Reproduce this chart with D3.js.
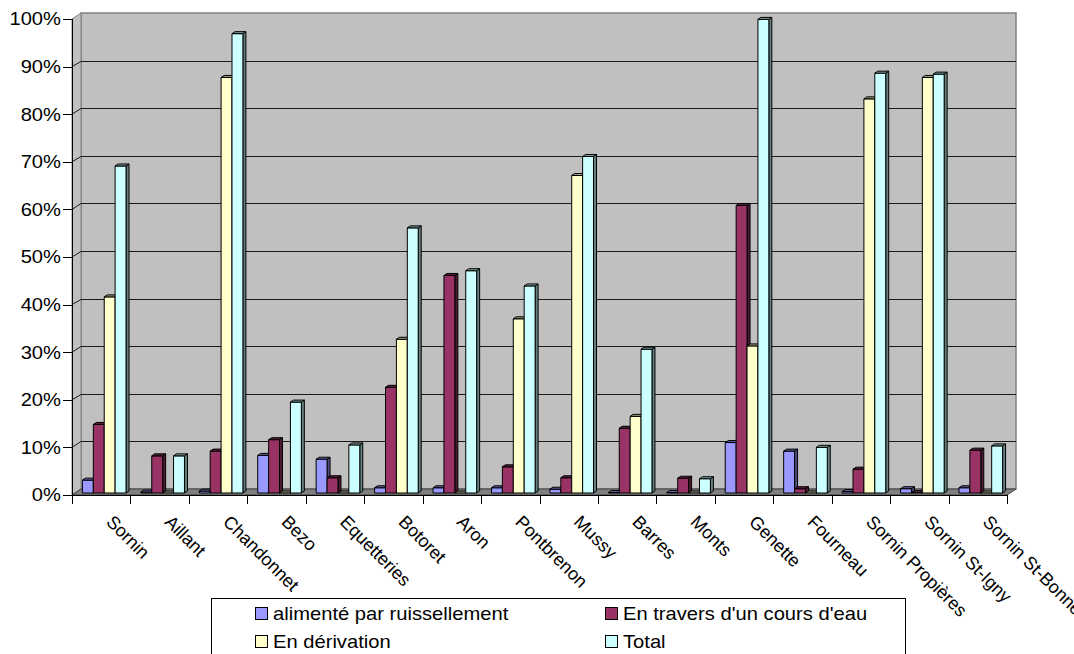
<!DOCTYPE html>
<html>
<head>
<meta charset="utf-8">
<script src="https://cdn.jsdelivr.net/npm/d3@7"></script>
<style>
  html, body { margin: 0; padding: 0; background: #fff; }
  svg { display: block; }
  text { font-family: "Liberation Sans", Arial, sans-serif; font-size: 18px; fill: #000; }
</style>
</head>
<body>
<svg id="chart" width="1074" height="654"></svg>
<script>
// Catchment names along the x axis
const categories = ["Sornin", "Aillant", "Chandonnet", "Bezo", "Equetteries", "Botoret", "Aron",
  "Pontbrenon", "Mussy", "Barres", "Monts", "Genette", "Fourneau", "Sornin Propières",
  "Sornin St-Igny", "Sornin St-Bonnet"];

// Share of ponds per type, in percent
const ruissellement = [2.7, 0.2, 0.4, 7.9, 7.1, 1.1, 1.1, 1.1, 0.8, 0.1, 0.1, 10.6, 8.8, 0.3, 0.9, 1.1];
const travers       = [14.4, 7.8, 8.8, 11.2, 3.2, 22.2, 45.7, 5.5, 3.2, 13.6, 3.1, 60.4, 0.9, 5.0, 0.1, 9.0];
const derivation    = [41.2, 0, 87.3, 0, 0, 32.3, 0, 36.6, 66.7, 16.1, 0, 30.9, 0, 82.8, 87.3, 0];
const total         = [68.7, 7.8, 96.5, 19.1, 10.1, 55.7, 46.7, 43.5, 70.7, 30.2, 3.0, 99.5, 9.6, 88.2, 88.0, 9.9];

const seriesNames = ["alimenté par ruissellement", "En travers d'un cours d'eau", "En dérivation", "Total"];
const seriesValues = [ruissellement, travers, derivation, total];
const seriesColors = ["#9999FF", "#993366", "#FFFFCC", "#CCFFFF"];

const yTicks = [0, 10, 20, 30, 40, 50, 60, 70, 80, 90, 100];
const yTickLabels = ["0%", "10%", "20%", "30%", "40%", "50%", "60%", "70%", "80%", "90%", "100%"];

const svg = d3.select("#chart");

// Front plane of the 3D box
const x0 = 72, x1 = 1007;
const depthX = 9, depthY = -6;          // wall offset behind the front plane
const barShiftX = 3, barShiftY = -2;    // bars sit one third into the box
const barDepthX = 3, barDepthY = -2;    // depth of each bar
const stretch = 1.12;                   // horizontal stretch of the upright texts

const y = d3.scaleLinear().domain([0, 100]).range([495, 19]);
const x = d3.scaleBand().domain(categories).range([x0, x1]);
const xs = d3.scaleBand().domain(d3.range(4)).range([0, x.bandwidth()]).paddingInner(0).paddingOuter(0.68);

const yBase = y(0);
const pts = arr => arr.map(p => p.join(",")).join(" ");

// Back wall
svg.append("rect")
  .attr("x", x0 + depthX).attr("y", y(100) + depthY)
  .attr("width", x1 - x0).attr("height", y(0) - y(100))
  .attr("fill", "#C0C0C0").attr("stroke", "#808080").attr("stroke-width", 1.5);

// Side wall
svg.append("polygon")
  .attr("points", pts([[x0, y(0)], [x0, y(100)], [x0 + depthX, y(100) + depthY], [x0 + depthX, y(0) + depthY]]))
  .attr("fill", "#C0C0C0").attr("stroke", "#808080").attr("stroke-width", 1);

// Floor
svg.append("polygon")
  .attr("points", pts([[x0, y(0)], [x1, y(0)], [x1 + depthX, y(0) + depthY], [x0 + depthX, y(0) + depthY]]))
  .attr("fill", "#808080").attr("stroke", "#404040").attr("stroke-width", 1);

// Gridlines on back and side walls
const grid = svg.append("g").attr("stroke", "#1a1a1a").attr("stroke-width", 1).attr("fill", "none");
yTicks.filter(t => t > 0 && t < 100).forEach(t => {
  const yb = Math.round(y(t) + depthY) + 0.5;
  grid.append("line").attr("x1", x0 + depthX).attr("x2", x1 + depthX).attr("y1", yb).attr("y2", yb);
  grid.append("line").attr("x1", x0).attr("x2", x0 + depthX).attr("y1", y(t)).attr("y2", yb);
});

// Bars, drawn left to right so neighbours hide the side faces
const bars = svg.append("g").attr("stroke", "#000").attr("stroke-width", 1).attr("stroke-linejoin", "round");
categories.forEach((cat, ci) => {
  seriesValues.forEach((vals, si) => {
    const v = vals[ci];
    const c = d3.color(seriesColors[si]);
    const bx = x(cat) + xs(si) + barShiftX;
    const w = xs.bandwidth();
    const top = y(v) + barShiftY;
    const bot = yBase + barShiftY;
    const g = bars.append("g");
    // side face
    g.append("polygon")
      .attr("points", pts([[bx + w, top], [bx + w + barDepthX, top + barDepthY], [bx + w + barDepthX, bot + barDepthY], [bx + w, bot]]))
      .attr("fill", d3.rgb(c.r * 0.5, c.g * 0.5, c.b * 0.5));
    // front face
    g.append("rect")
      .attr("x", bx).attr("y", top).attr("width", w).attr("height", Math.max(0, bot - top))
      .attr("fill", c);
    // top face
    g.append("polygon")
      .attr("points", pts([[bx, top], [bx + w, top], [bx + w + barDepthX, top + barDepthY], [bx + barDepthX, top + barDepthY]]))
      .attr("fill", d3.rgb(c.r * 0.62, c.g * 0.62, c.b * 0.62));
  });
});

// Value axis
const axisG = svg.append("g").attr("stroke", "#000").attr("stroke-width", 1);
axisG.append("line").attr("x1", x0 + 0.5).attr("x2", x0 + 0.5).attr("y1", y(100)).attr("y2", y(0));
yTicks.forEach((t, i) => {
  const ty = Math.round(y(t)) + 0.5;
  axisG.append("line").attr("x1", x0 - 9).attr("x2", x0).attr("y1", ty).attr("y2", ty);
  svg.append("g").attr("transform", `translate(${x0 - 11},${y(t)}) scale(${stretch},1)`)
    .append("text").attr("text-anchor", "end").attr("dy", "0.35em").text(yTickLabels[i]);
});

// Category axis
axisG.append("line").attr("x1", x0).attr("x2", x1).attr("y1", yBase + 0.5).attr("y2", yBase + 0.5);
d3.range(categories.length + 1).forEach(i => {
  const tx = Math.round(x0 + i * x.step()) + 0.5;
  axisG.append("line").attr("x1", tx).attr("x2", tx).attr("y1", yBase).attr("y2", yBase + 9);
});
categories.forEach(cat => {
  const cx = x(cat) + x.bandwidth() / 2;
  svg.append("text")
    .attr("transform", `translate(${cx + 4},${yBase + 28}) rotate(45)`)
    .attr("text-anchor", "start").text(cat);
});

// Legend
const legend = svg.append("g");
legend.append("rect").attr("x", 211.5).attr("y", 598.5).attr("width", 694).attr("height", 80)
  .attr("fill", "#fff").attr("stroke", "#000").attr("stroke-width", 1);
const legendPos = [[255, 620], [605, 620], [255, 648], [605, 648]];
seriesNames.forEach((name, si) => {
  const [lx, ly] = legendPos[si];
  legend.append("rect").attr("x", lx + 0.5).attr("y", ly - 12.5).attr("width", 12).attr("height", 12)
    .attr("fill", seriesColors[si]).attr("stroke", "#000").attr("stroke-width", 1);
  legend.append("g").attr("transform", `translate(${lx + 18},${ly}) scale(${stretch},1)`)
    .append("text").text(name);
});
</script>
</body>
</html>
